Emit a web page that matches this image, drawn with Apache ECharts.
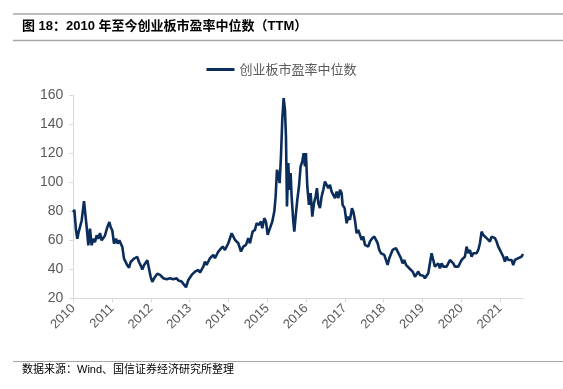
<!DOCTYPE html>
<html>
<head>
<meta charset="utf-8">
<style>
html,body{margin:0;padding:0;background:#fff;}
#c{width:563px;height:389px;}
</style>
<script src="https://cdn.jsdelivr.net/npm/echarts@6/dist/echarts.min.js"></script>
</head>
<body>
<div id="c"></div>
<script>
var titleText = '图 18：2010 年至今创业板市盈率中位数（TTM）';
var sourceText = '数据来源：Wind、国信证券经济研究所整理';
var seriesName = '创业板市盈率中位数';
var yTicks = [20, 40, 60, 80, 100, 120, 140, 160];
var xYears = [2010, 2011, 2012, 2013, 2014, 2015, 2016, 2017, 2018, 2019, 2020, 2021];

var dates = [
2010.000,2010.027,2010.070,2010.104,2010.138,2010.173,2010.216,2010.276,2010.310,2010.345,
2010.387,2010.430,2010.473,2010.516,2010.559,2010.602,2010.645,2010.688,2010.731,2010.774,
2010.817,2010.877,2010.929,2010.963,2011.006,2011.049,2011.101,2011.143,2011.186,2011.229,
2011.264,2011.307,2011.350,2011.393,2011.436,2011.479,2011.521,2011.564,2011.607,2011.650,
2011.693,2011.736,2011.779,2011.822,2011.865,2011.908,2011.951,2011.994,2012.037,2012.080,
2012.123,2012.166,2012.209,
2012.235,2012.320,2012.406,2012.492,2012.578,2012.664,2012.707,2012.750,2012.793,2012.836,
2012.905,2012.965,2013.051,2013.137,2013.222,2013.266,2013.351,2013.394,2013.437,2013.523,
2013.609,2013.652,2013.738,2013.781,2013.850,2013.910,2013.996,2014.082,2014.125,2014.168,
2014.253,2014.322,2014.382,2014.451,2014.511,2014.554,2014.623,
2014.683,2014.726,2014.786,2014.838,2014.872,2014.923,2014.966,2015.010,2015.070,2015.130,
2015.181,2015.216,2015.250,2015.284,2015.319,2015.353,2015.387,2015.422,2015.456,2015.482,
2015.508,2015.542,2015.568,2015.602,2015.628,2015.671,2015.697,2015.731,2015.774,2015.817,
2015.860,2015.903,2015.937,2015.972,2015.997,2016.032,2016.075,2016.118,2016.161,2016.204,
2016.247,2016.281,2016.315,2016.358,2016.401,2016.444,2016.487,2016.530,2016.573,
2016.616,2016.659,2016.702,2016.745,2016.788,2016.831,2016.874,2016.917,2016.942,2016.994,
2017.046,2017.088,2017.131,2017.183,2017.217,2017.260,2017.303,2017.346,2017.389,2017.432,
2017.475,2017.518,2017.561,2017.604,2017.647,2017.707,2017.759,2017.802,2017.845,2017.887,
2017.930,2017.973,2018.016,2018.059,2018.102,2018.145,2018.188,2018.231,2018.274,2018.317,
2018.360,2018.403,2018.446,2018.489,2018.532,2018.575,2018.618,2018.661,2018.704,2018.747,
2018.807,2018.850,2018.893,2018.936,2018.979,2019.021,2019.064,2019.107,2019.150,2019.193,
2019.236,2019.279,2019.322,2019.365,2019.408,2019.451,2019.494,2019.537,2019.580,2019.623,
2019.666,2019.709,2019.752,2019.795,2019.838,2019.881,2019.923,2019.966,2020.009,2020.052,
2020.095,2020.138,2020.181,2020.224,2020.267,2020.310,2020.353,2020.396,2020.439,2020.482,
2020.525,2020.568,2020.611,2020.654,2020.697,2020.740,2020.783,2020.826,2020.869,2020.911,
2020.954,2020.997,2021.040,2021.083,2021.126,2021.169,2021.212,2021.255,2021.298,2021.341,
2021.384,2021.427,2021.470,2021.513,2021.556,2021.590
];

var peMedian = [
79.3,80.9,66.7,61.0,65.6,64.5,73.6,86.9,78.2,69.0,
56.5,67.9,56.5,61.0,58.7,63.3,61.0,64.9,59.9,59.9,
63.3,69.0,72.5,69.0,66.7,57.6,61.0,57.6,59.9,58.7,
55.3,47.3,46.2,42.7,41.1,45.0,46.2,47.3,46.2,48.5,
45.0,42.7,39.8,42.7,43.9,46.2,40.5,34.8,31.3,33.6,
34.8,37.0,38.2,
36.1,33.8,33.1,33.8,33.1,33.8,32.2,33.1,31.5,30.8,
27.6,32.6,36.1,38.4,39.5,37.7,41.8,45.3,43.0,47.6,
49.9,47.6,52.2,51.0,55.6,53.3,57.9,64.8,63.7,60.2,
57.9,52.2,55.6,56.8,61.4,57.9,66.0,
67.1,71.7,70.6,72.9,68.3,75.2,72.9,63.7,68.3,72.9,
79.7,90.1,108.5,105.1,99.3,117.7,143.0,157.9,149.9,131.4,
83.2,113.1,94.7,106.2,90.1,72.9,65.9,76.3,87.8,97.0,
110.8,114.2,120.0,110.8,120.0,97.0,84.3,92.4,76.3,85.5,
90.1,95.9,85.5,82.1,90.1,94.7,100.4,101.6,95.9,
98.1,93.5,94.7,89.0,93.5,89.0,94.7,92.4,84.3,82.1,
71.7,76.3,74.0,82.1,79.7,74.0,64.8,67.1,63.7,60.2,
62.5,56.8,58.0,55.6,59.1,61.4,62.5,61.4,58.0,53.3,
51.0,52.2,49.9,48.7,43.0,47.6,48.7,53.3,52.2,54.5,
53.3,49.9,47.6,44.1,46.4,43.0,41.8,40.7,39.5,38.4,
34.9,36.1,38.4,36.1,34.9,35.6,33.8,32.6,37.3,44.1,
51.0,49.9,41.8,40.7,44.1,40.7,44.1,41.8,42.9,41.8,
44.1,46.4,45.3,44.1,41.8,40.7,41.8,44.1,46.4,45.3,
48.7,55.6,51.0,53.3,48.7,51.0,49.9,51.0,53.3,57.9,
65.9,63.6,64.8,61.4,62.5,59.1,62.5,63.6,61.4,59.1,
55.6,53.3,51.0,48.7,45.3,48.7,46.4,47.6,46.4,42.9,
46.4,45.3,47.6,46.4,48.7,50.5
];

var points = dates.map(function (d, i) { return [d, peMedian[i]]; });

var chart = echarts.init(document.getElementById('c'), null, {renderer: 'canvas'});
var gray = '#595959';
var lineColor = '#0b2d5b';
chart.setOption({
  animation: false,
  backgroundColor: '#fff',
  textStyle: {fontFamily: 'Liberation Sans, Arial, "Noto Sans CJK SC", sans-serif'},
  graphic: [
    {type: 'line', shape: {x1: 13, y1: 14, x2: 563, y2: 14}, style: {stroke: '#a6a6a6', lineWidth: 1.5}},
    {type: 'text', left: 22, top: 20, style: {text: titleText, fill: '#000', font: 'bold 13px "Liberation Sans", "Noto Sans CJK SC", sans-serif'}},
    {type: 'line', shape: {x1: 13, y1: 40.5, x2: 563, y2: 40.5}, style: {stroke: '#a6a6a6', lineWidth: 1.5}},
    {type: 'line', shape: {x1: 13, y1: 361.5, x2: 563, y2: 361.5}, style: {stroke: '#a6a6a6', lineWidth: 1}},
    {type: 'text', left: 22, top: 364, style: {text: sourceText, fill: '#000', font: '11px "Liberation Sans", "Noto Sans CJK SC", sans-serif'}}
  ],
  legend: {
    data: [seriesName],
    top: 58,
    left: 'center',
    itemWidth: 28,
    itemHeight: 3,
    icon: 'rect',
    textStyle: {color: gray, fontSize: 13, fontFamily: '"Noto Sans CJK SC", sans-serif'}
  },
  grid: {left: 73.3, right: 39.7, top: 95, bottom: 90.7, containLabel: false},
  xAxis: {
    type: 'value',
    min: 2010,
    max: 2021.6,
    interval: 1,
    axisLine: {show: true, lineStyle: {color: '#d9d9d9', width: 1}},
    axisTick: {show: true, length: 4, lineStyle: {color: '#d9d9d9'}},
    splitLine: {show: false},
    axisLabel: {
      rotate: 45,
      color: gray,
      fontSize: 13,
      margin: 8,
      showMaxLabel: false,
      formatter: function (v) {
        var r = Math.round(v);
        return (Math.abs(v - r) < 1e-6 && xYears.indexOf(r) >= 0) ? String(r) : '';
      }
    }
  },
  yAxis: {
    type: 'value',
    min: yTicks[0],
    max: yTicks[yTicks.length - 1],
    interval: 20,
    axisLine: {show: true, lineStyle: {color: '#d9d9d9', width: 1}},
    axisTick: {show: true, length: 4, lineStyle: {color: '#d9d9d9'}},
    splitLine: {show: false},
    axisLabel: {color: gray, fontSize: 14, margin: 10}
  },
  series: [{
    name: seriesName,
    type: 'line',
    data: points,
    showSymbol: false,
    symbol: 'none',
    lineStyle: {color: lineColor, width: 2.6},
    itemStyle: {color: lineColor}
  }]
});
</script>
</body>
</html>
